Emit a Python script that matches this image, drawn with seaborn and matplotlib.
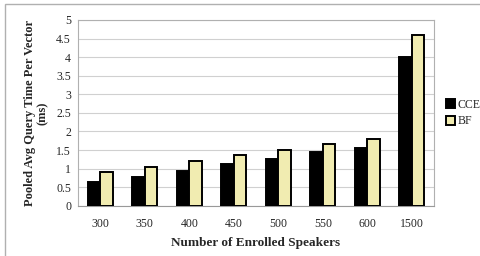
import pandas as pd
import matplotlib.pyplot as plt
import seaborn as sns

speakers = ['300', '350', '400', '450', '500', '550', '600', '1500']
cce_ms = [0.65, 0.78, 0.94, 1.12, 1.26, 1.44, 1.56, 4.0]
bf_ms = [0.90, 1.05, 1.21, 1.36, 1.51, 1.66, 1.81, 4.6]

df = pd.DataFrame({
    'speakers': speakers * 2,
    'time': cce_ms + bf_ms,
    'method': ['CCE'] * len(speakers) + ['BF'] * len(speakers),
})

sns.set_style('white')
plt.rcParams['font.family'] = ['Liberation Serif', 'DejaVu Serif']

fig = plt.figure(figsize=(4.8, 2.56), dpi=100)
# thin gray frame around the whole figure
fig.patches.append(plt.Rectangle((5 / 480, -0.1), 1.2, 1 - 3.5 / 256 + 0.1,
                                 transform=fig.transFigure, fill=False,
                                 edgecolor='#b0b0b0', linewidth=1))
ax = fig.add_axes([0.1625, 0.196, 0.7417, 0.726])

sns.barplot(data=df, x='speakers', y='time', hue='method',
            palette={'CCE': 'black', 'BF': '#fcf5a6'},
            width=0.57, edgecolor='black', linewidth=1.4, ax=ax, zorder=3)

ax.set_ylim(0, 5)
ax.set_yticks([0, 0.5, 1, 1.5, 2, 2.5, 3, 3.5, 4, 4.5, 5])
ax.set_yticklabels(['0', '0.5', '1', '1.5', '2', '2.5', '3', '3.5', '4', '4.5', '5'])
ax.yaxis.grid(True, color='#d0d0d0', linewidth=0.8, zorder=0)
ax.set_axisbelow(True)

# ticks sit between the categories
ax.set_xticks([i + 0.5 for i in range(len(speakers) - 1)], minor=True)
ax.tick_params(axis='x', which='minor', length=3, color='#999999', width=0.8)
ax.tick_params(axis='x', which='major', length=0, labelsize=8.5, pad=9)
ax.tick_params(axis='y', length=3, color='#999999', labelsize=8.5, pad=2)
ax.set_xlim(-0.5, len(speakers) - 0.5)

for side in ['top', 'right', 'left']:
    ax.spines[side].set_color('#b0b0b0')
    ax.spines[side].set_linewidth(0.8)
ax.spines['bottom'].set_color('#999999')

ax.set_xlabel('Number of Enrolled Speakers', fontsize=9.5, fontweight='bold', labelpad=5)
ax.set_ylabel('Pooled Avg Query Time Per Vector\n(ms)', fontsize=9,
              fontweight='bold', labelpad=5, linespacing=1.15)

ax.legend(title=None, loc='center left', bbox_to_anchor=(1.02, 0.5), frameon=False,
          fontsize=8.5, handlelength=0.8, handleheight=0.8, handletextpad=0.2,
          labelspacing=0.4, borderaxespad=0)

plt.savefig('out.png', dpi=100)
plt.close()
